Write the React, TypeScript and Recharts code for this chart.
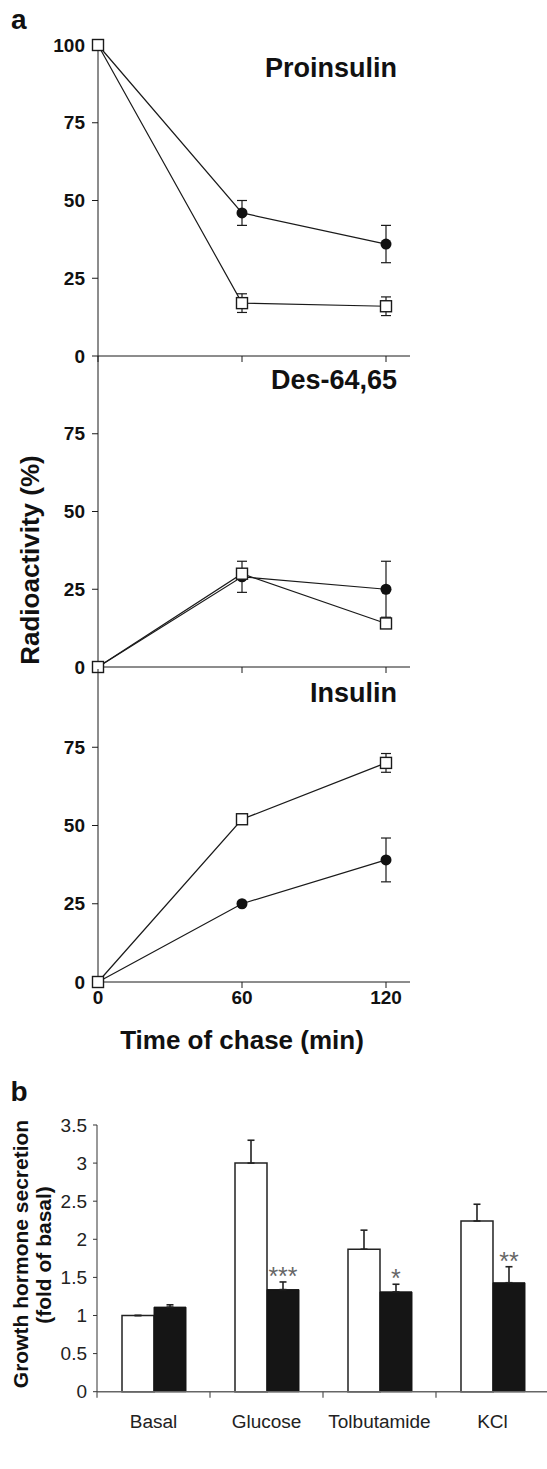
import React from 'react';
import { ComposedChart, Line, XAxis, YAxis, ErrorBar, BarChart, Bar, LabelList } from 'recharts';

const FONT = '"Liberation Sans", Arial, Helvetica, sans-serif';

// ---- Panel a data ----
const chaseTimes = [0, 60, 120];
const timeTicks = [0, 60, 120];

const proinsulinOpen = [100, 17, 16];
const proinsulinOpenErr = [0, 3, 3];
const proinsulinFilled = [100, 46, 36];
const proinsulinFilledErr = [0, 4, 6];

const desOpen = [0, 30, 14];
const desOpenErr = [0, 0, 1];
const desFilled = [0, 29, 25];
const desFilledErr = [0, 5, 9];

const insulinOpen = [0, 52, 70];
const insulinOpenErr = [0, 0, 3];
const insulinFilled = [0, 25, 39];
const insulinFilledErr = [0, 0, 7];

const panelTitles = ['Proinsulin', 'Des-64,65', 'Insulin'];
const topTicks = [0, 25, 50, 75, 100];
const lowerTicks = [0, 25, 50, 75];

// ---- Panel b data ----
const categories = ['Basal', 'Glucose', 'Tolbutamide', 'KCl'];
const controlValues = [1.0, 3.0, 1.87, 2.24];
const controlErr = [0, 0.3, 0.25, 0.22];
const treatedValues = [1.11, 1.34, 1.31, 1.43];
const treatedErr = [0.03, 0.1, 0.1, 0.21];
const significance = ['', '***', '*', '**'];
const bTicks = [0, 0.5, 1, 1.5, 2, 2.5, 3, 3.5];

const makeRows = (open: number[], openErr: number[], filled: number[], filledErr: number[]) =>
  chaseTimes.map((t, i) => ({ t, open: open[i], openErr: openErr[i], filled: filled[i], filledErr: filledErr[i] }));

const proRows = makeRows(proinsulinOpen, proinsulinOpenErr, proinsulinFilled, proinsulinFilledErr);
const desRows = makeRows(desOpen, desOpenErr, desFilled, desFilledErr);
const insRows = makeRows(insulinOpen, insulinOpenErr, insulinFilled, insulinFilledErr);

const barRows = categories.map((c, i) => ({
  cat: c,
  control: controlValues[i],
  controlErr: [0, controlErr[i]],
  treated: treatedValues[i],
  treatedErr: [0, treatedErr[i]],
  sig: significance[i],
}));

const INK = '#1a1a1a';

const SquareDot = (props: any) => {
  const { cx, cy, index } = props;
  if (cx == null || cy == null) return <g key={`e${index}`} />;
  return (
    <rect key={`s${index}`} x={cx - 5.5} y={cy - 5.5} width={11} height={11} fill="#fff" stroke={INK} strokeWidth={1.4} />
  );
};

const EmptyTick = () => <g />;

function KineticPanel({ rows, ticks, plotTop, plotHeight, showX }: any) {
  const mTop = 20;
  const xH = 45;
  return (
    <div style={{ position: 'absolute', left: 0, top: plotTop - mTop }}>
      <ComposedChart
        width={547}
        height={mTop + plotHeight + xH}
        data={rows}
        margin={{ top: mTop, right: 137, bottom: 0, left: 0 }}
      >
        <XAxis
          dataKey="t"
          type="number"
          domain={[0, 130]}
          ticks={timeTicks}
          interval={0}
          height={xH}
          stroke={INK}
          tickSize={6}
          tickMargin={3}
          tick={showX ? { fontSize: 19, fontWeight: 700, fill: '#111', fontFamily: FONT } : EmptyTick}
        />
        <YAxis
          type="number"
          domain={[0, 100]}
          ticks={ticks}
          interval={0}
          width={98}
          stroke={INK}
          tickSize={6}
          tickMargin={7}
          tick={{ fontSize: 19, fontWeight: 700, fill: '#111', fontFamily: FONT }}
        />
        <Line
          dataKey="filled"
          type="linear"
          stroke={INK}
          strokeWidth={1.2}
          dot={{ r: 5.5, fill: '#111', stroke: '#111', strokeWidth: 0 }}
          isAnimationActive={false}
        >
          <ErrorBar dataKey="filledErr" width={5} stroke={INK} strokeWidth={1.2} direction="y" />
        </Line>
        <Line
          dataKey="open"
          type="linear"
          stroke={INK}
          strokeWidth={1.2}
          dot={SquareDot}
          isAnimationActive={false}
        >
          <ErrorBar dataKey="openErr" width={5} stroke={INK} strokeWidth={1.2} direction="y" />
        </Line>
      </ComposedChart>
    </div>
  );
}

const CategoryTick = (props: any) => {
  const { x, y, payload, index, width, visibleTicksCount } = props;
  let half = payload && payload.offset ? payload.offset : 0;
  if (!half && width && visibleTicksCount) half = width / visibleTicksCount / 2;
  return (
    <g>
      <line x1={x - half} y1={y} x2={x - half} y2={y + 6} stroke="#555" strokeWidth={1.2} />
      <text x={x} y={y + 36} textAnchor="middle" fontSize={19} fill="#222" fontFamily={FONT}>
        {payload ? payload.value : categories[index]}
      </text>
    </g>
  );
};

const StarLabel = (props: any) => {
  const { x, y, width, height, value } = props;
  if (!value) return null;
  let idx = props.index;
  if (idx == null) idx = significance.indexOf(value);
  const capY = Number(y) - (Number(height) * treatedErr[idx]) / treatedValues[idx];
  return (
    <text x={Number(x) + Number(width) / 2} y={capY + 3} textAnchor="middle" fontSize={25} fill="#666" fontFamily={FONT}>
      {value}
    </text>
  );
};

function SecretionChart() {
  const mTop = 20;
  const plotH = 266.7;
  const xH = 60;
  return (
    <div style={{ position: 'absolute', left: 0, top: 1125 - mTop }}>
      <BarChart
        width={549}
        height={mTop + plotH + xH}
        data={barRows}
        margin={{ top: mTop, right: 0, bottom: 0, left: 0 }}
        barGap={0}
        barSize={32}
      >
        <XAxis
          dataKey="cat"
          interval={0}
          height={xH}
          axisLine={{ stroke: '#666', strokeWidth: 1.5 }}
          tickLine={false}
          tickSize={0}
          tickMargin={0}
          tick={CategoryTick}
        />
        <YAxis
          type="number"
          domain={[0, 3.5]}
          ticks={bTicks}
          interval={0}
          width={97}
          stroke="#333"
          tickSize={4}
          tickMargin={6}
          tick={{ fontSize: 19, fill: '#222', fontFamily: FONT }}
        />
        <Bar dataKey="control" fill="#fff" stroke="#222" strokeWidth={1.5} isAnimationActive={false}>
          <ErrorBar dataKey="controlErr" width={3.5} stroke="#222" strokeWidth={1.6} direction="y" />
        </Bar>
        <Bar dataKey="treated" fill="#151515" stroke="#151515" strokeWidth={1} isAnimationActive={false}>
          <ErrorBar dataKey="treatedErr" width={3.5} stroke="#222" strokeWidth={1.6} direction="y" />
          <LabelList dataKey="sig" content={StarLabel} />
        </Bar>
      </BarChart>
    </div>
  );
}

export default function App() {
  return (
    <div
      style={{
        position: 'absolute',
        left: 0,
        top: 0,
        width: 547,
        height: 1469,
        overflow: 'hidden',
        background: '#fff',
        fontFamily: FONT,
      }}
    >
      <KineticPanel rows={proRows} ticks={topTicks} plotTop={44.6} plotHeight={311} showX={false} />
      <KineticPanel rows={desRows} ticks={lowerTicks} plotTop={356} plotHeight={311} showX={false} />
      <KineticPanel rows={insRows} ticks={lowerTicks} plotTop={669} plotHeight={313} showX={true} />
      <SecretionChart />
      <svg
        width={547}
        height={1469}
        style={{ position: 'absolute', left: 0, top: 0, pointerEvents: 'none' }}
        fontFamily={FONT}
      >
        <text x={11} y={29} fontSize={28} fontWeight={700} fill="#111">a</text>
        <text x={397} y={77} fontSize={27} fontWeight={700} fill="#111" textAnchor="end">{panelTitles[0]}</text>
        <text x={397} y={389} fontSize={27} fontWeight={700} fill="#111" textAnchor="end">{panelTitles[1]}</text>
        <text x={397} y={702} fontSize={27} fontWeight={700} fill="#111" textAnchor="end">{panelTitles[2]}</text>
        <text
          x={39}
          y={560}
          fontSize={26}
          fontWeight={700}
          fill="#111"
          textAnchor="middle"
          transform="rotate(-90 39 560)"
        >
          Radioactivity (%)
        </text>
        <text x={242} y={1049} fontSize={26} fontWeight={700} fill="#111" textAnchor="middle">
          Time of chase (min)
        </text>
        <text x={10.5} y={1101} fontSize={28} fontWeight={700} fill="#111">b</text>
        <text
          x={28.3}
          y={1254}
          fontSize={21}
          fontWeight={700}
          fill="#111"
          textAnchor="middle"
          transform="rotate(-90 28.3 1254)"
        >
          Growth hormone secretion
        </text>
        <text
          x={50.6}
          y={1255}
          fontSize={21}
          fontWeight={700}
          fill="#111"
          textAnchor="middle"
          transform="rotate(-90 50.6 1255)"
        >
          (fold of basal)
        </text>
      </svg>
    </div>
  );
}
